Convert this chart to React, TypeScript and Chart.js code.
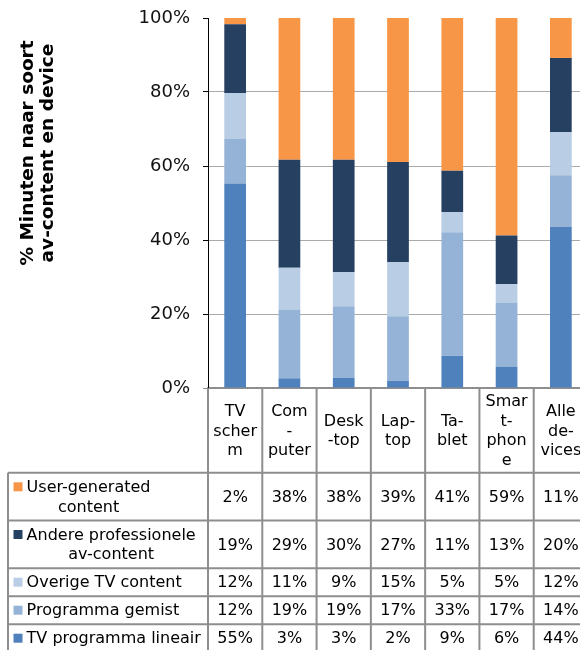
import React, { useEffect, useRef } from "react";
import { Chart, registerables } from "chart.js";

Chart.register(...registerables);

// ---- data ----
const categories: string[][] = [
  ["TV", "scher", "m"],
  ["Com", "-", "puter"],
  ["Desk", "-top"],
  ["Lap-", "top"],
  ["Ta-", "blet"],
  ["Smar", "t-", "phon", "e"],
  ["Alle", "de-", "vices"],
];

const tvLineair = [55.3, 2.6, 2.7, 2.0, 8.7, 5.8, 43.6];
const programmaGemist = [12.1, 18.6, 19.4, 17.4, 33.4, 17.3, 13.9];
const overigeTv = [12.3, 11.3, 9.2, 14.6, 5.4, 5.0, 11.6];
const andereProfessionele = [18.6, 29.2, 30.4, 27.1, 11.2, 13.1, 20.1];
const userGenerated = [1.7, 38.3, 38.3, 38.9, 41.3, 58.8, 10.8];

const seriesLabels: string[][] = [
  ["TV programma lineair"],
  ["Programma gemist"],
  ["Overige TV content"],
  ["Andere professionele", "av-content"],
  ["User-generated", "content"],
];
const seriesValues = [tvLineair, programmaGemist, overigeTv, andereProfessionele, userGenerated];
const seriesColors = ["#4F81BD", "#95B3D7", "#B9CDE5", "#254061", "#F79646"];

const yTicks = [0, 20, 40, 60, 80, 100];
const yTitle = ["% Minuten naar soort", "av-content en device"];

const FONT = "DejaVu Sans";
const LINE = "#8e8e8e";

const tablePlugin = {
  id: "dataTable",
  afterDraw(chart: any) {
    const { ctx, chartArea } = chart;
    const xs = chart.scales.x;
    const n = categories.length;
    const colW = (chartArea.right - chartArea.left) / n;
    const centers = categories.map((_, i) => xs.getPixelForValue(i));
    const edges = [centers[0] - colW / 2, ...centers.map((c) => c + colW / 2)];
    const LH = 19.7;
    const top = chartArea.bottom;
    const headerH = Math.max(...categories.map((c) => c.length)) * LH + 6;
    const rowOrder = [4, 3, 2, 1, 0];
    const rowHeights = rowOrder.map((s) => seriesLabels[s].length * LH + 8.3);
    const rowTops: number[] = [];
    let y = top + headerH;
    rowHeights.forEach((h) => {
      rowTops.push(y);
      y += h;
    });
    const tableBottom = y;
    const legendLeft = 8;

    ctx.save();
    ctx.strokeStyle = LINE;
    ctx.lineWidth = 2;
    edges.forEach((ex) => {
      ctx.beginPath();
      ctx.moveTo(ex, top);
      ctx.lineTo(ex, tableBottom);
      ctx.stroke();
    });
    ctx.beginPath();
    ctx.moveTo(legendLeft, top + headerH);
    ctx.lineTo(legendLeft, tableBottom);
    ctx.stroke();
    [...rowTops, tableBottom].forEach((ry) => {
      ctx.beginPath();
      ctx.moveTo(legendLeft, ry);
      ctx.lineTo(edges[n], ry);
      ctx.stroke();
    });

    ctx.fillStyle = "#000";
    ctx.font = `16px "${FONT}"`;
    ctx.textAlign = "center";
    ctx.textBaseline = "middle";
    categories.forEach((lines, i) => {
      const cy = top + headerH / 2;
      lines.forEach((t, k) => {
        ctx.fillText(t, centers[i], cy + (k - (lines.length - 1) / 2) * LH + 1);
      });
    });
    rowOrder.forEach((s, r) => {
      const cy = rowTops[r] + rowHeights[r] / 2;
      const lines = seriesLabels[s];
      const textLeft = 26.6;
      const widths = lines.map((t) => ctx.measureText(t).width);
      const maxW = Math.max(...widths);
      const firstY = cy - ((lines.length - 1) / 2) * LH;
      ctx.fillStyle = seriesColors[s];
      ctx.fillRect(13.5, firstY - 4.5, 9, 9);
      ctx.fillStyle = "#000";
      ctx.textAlign = "center";
      lines.forEach((t, k) => {
        ctx.fillText(t, textLeft + maxW / 2, firstY + k * LH + 1);
      });
      seriesValues[s].forEach((v, i) => {
        ctx.fillText(`${Math.round(v)}%`, centers[i], cy + 1);
      });
    });

    // y title
    ctx.save();
    ctx.font = `bold 18.5px "${FONT}"`;
    ctx.textBaseline = "alphabetic";
    ctx.translate(0, 153);
    ctx.rotate(-Math.PI / 2);
    yTitle.forEach((t, k) => {
      ctx.fillText(t, 0, 33 + k * 19.5);
    });
    ctx.restore();
    ctx.restore();
  },
};

export default function App() {
  const ref = useRef<HTMLCanvasElement>(null);
  useEffect(() => {
    if (!ref.current) return;
    Chart.defaults.font.family = FONT;
    const chart = new Chart(ref.current, {
      type: "bar",
      data: {
        labels: categories,
        datasets: seriesValues.map((vals, i) => ({
          label: seriesLabels[i].join(" "),
          data: vals,
          backgroundColor: seriesColors[i],
          borderWidth: 0,
          barPercentage: 0.4,
          categoryPercentage: 1,
        })),
      },
      options: {
        responsive: false,
        animation: false,
        layout: { padding: { left: 0, top: 18, right: 12, bottom: 262 } },
        plugins: { legend: { display: false }, tooltip: { enabled: false }, title: { display: false } },
        scales: {
          x: {
            stacked: true,
            ticks: { display: false },
            grid: { display: false },
            border: { display: true, color: LINE, width: 2 },
            afterFit: (s: any) => {
              s.height = 0;
            },
          },
          y: {
            stacked: true,
            min: 0,
            max: 100,
            afterBuildTicks: (s: any) => {
              s.ticks = yTicks.map((v) => ({ value: v }));
            },
            ticks: {
              callback: (v: any) => `${v}%`,
              font: { size: 18, family: FONT },
              color: "#111",
              padding: 13,
            },
            grid: {
              color: (c: any) => (c.tick && (c.tick.value === 0 || c.tick.value === 100) ? "rgba(0,0,0,0)" : "#aaaaaa"),
              tickColor: (c: any) => (c.tick && c.tick.value === 0 ? LINE : "#000"),
              tickLength: 5,
              lineWidth: 1,
            },
            border: { display: true, color: "#000", width: 1 },
            afterFit: (s: any) => {
              s.width = 208;
              s.paddingTop = 0;
              s.paddingBottom = 0;
            },
          },
        },
      },
      plugins: [tablePlugin],
    });
    return () => chart.destroy();
  }, []);
  return (
    <div style={{ position: "fixed", left: 0, top: 0, width: 580, height: 650, overflow: "hidden", background: "#fff" }}>
      <canvas ref={ref} width={600} height={650} style={{ width: 600, height: 650, display: "block" }} />
    </div>
  );
}
